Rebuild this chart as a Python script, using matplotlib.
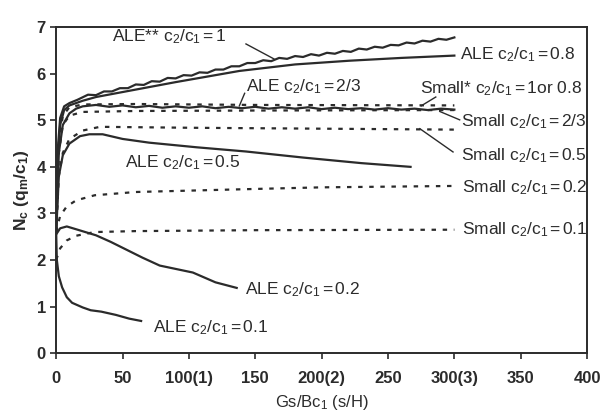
import matplotlib.pyplot as plt

plt.rcParams['font.family'] = ['Liberation Sans', 'DejaVu Sans']
plt.rcParams['mathtext.fontset'] = 'custom'
plt.rcParams['mathtext.rm'] = 'Liberation Sans'
plt.rcParams['mathtext.it'] = 'Liberation Sans:italic'
plt.rcParams['mathtext.bf'] = 'Liberation Sans:bold'

INK = "#2b2b2b"

# ---------------- data ----------------
ale_10_x = [0, 1, 3, 6, 10, 16, 24, 30, 36, 42, 48, 54, 60, 66, 72, 78, 84, 90, 96, 102,
            108, 114, 120, 126, 132, 138, 144, 150, 156, 162, 168, 174, 180, 186, 192,
            198, 204, 210, 216, 222, 228, 234, 240, 246, 252, 258, 264, 270, 276, 282,
            288, 294, 300]
ale_10_y = [2.6, 4.3, 5.05, 5.3, 5.37, 5.44, 5.55, 5.54, 5.62, 5.62, 5.69, 5.69, 5.77, 5.76,
            5.84, 5.83, 5.91, 5.90, 5.97, 5.96, 6.03, 6.02, 6.09, 6.09, 6.16, 6.16, 6.23,
            6.23, 6.29, 6.27, 6.34, 6.32, 6.38, 6.36, 6.42, 6.39, 6.45, 6.43, 6.49, 6.47,
            6.54, 6.52, 6.58, 6.56, 6.62, 6.61, 6.67, 6.65, 6.71, 6.69, 6.75, 6.73, 6.78]

ale_08_x = [0, 1, 3, 6, 10, 20, 30, 60, 90, 138, 180, 221, 260, 300]
ale_08_y = [2.6, 4.1, 4.9, 5.22, 5.32, 5.42, 5.5, 5.66, 5.82, 6.06, 6.2, 6.28, 6.34, 6.39]

ale_23_x = [0, 2, 5, 10, 15, 20, 30, 40, 50, 60, 70, 80, 90, 100, 110, 120, 130, 140, 150,
            160, 170, 180, 190, 200, 210, 220, 230, 240, 250, 260, 270, 280, 290, 300]
ale_23_y = [2.6, 4.3, 4.9, 5.15, 5.25, 5.3, 5.33, 5.29, 5.32, 5.28, 5.31, 5.27, 5.30, 5.27,
            5.30, 5.26, 5.29, 5.26, 5.29, 5.25, 5.28, 5.25, 5.28, 5.24, 5.27, 5.24, 5.26,
            5.23, 5.26, 5.23, 5.25, 5.22, 5.25, 5.23]

ale_05_x = [0, 2, 5, 10, 18, 25, 35, 50, 70, 106, 143, 186, 230, 267]
ale_05_y = [2.6, 3.8, 4.25, 4.5, 4.66, 4.70, 4.70, 4.60, 4.52, 4.42, 4.33, 4.2, 4.08, 4.0]

ale_02_x = [0, 3, 8, 15, 30, 41, 65, 78, 103, 120, 136]
ale_02_y = [2.55, 2.68, 2.72, 2.66, 2.53, 2.39, 2.05, 1.88, 1.73, 1.52, 1.40]

ale_01_x = [0, 0.5, 2, 4.5, 8, 12, 20, 26, 34, 45, 55, 64]
ale_01_y = [2.6, 2.0, 1.65, 1.41, 1.2, 1.08, 0.98, 0.92, 0.89, 0.82, 0.74, 0.69]

small_1_x = [0, 2, 5, 10, 20, 60, 150, 300]
small_1_y = [2.6, 4.5, 5.1, 5.28, 5.34, 5.35, 5.33, 5.32]

small_23_x = [0, 2, 5, 10, 20, 60, 150, 300]
small_23_y = [2.6, 4.3, 4.9, 5.1, 5.18, 5.2, 5.21, 5.22]

small_05_x = [0, 2, 5, 10, 20, 33, 100, 200, 300]
small_05_y = [2.6, 3.8, 4.3, 4.6, 4.78, 4.86, 4.84, 4.82, 4.8]

small_02_x = [0, 3, 8, 15, 29, 60, 142, 200, 300]
small_02_y = [2.6, 2.95, 3.15, 3.28, 3.39, 3.46, 3.52, 3.56, 3.59]

small_01_x = [0, 3, 8, 15, 29, 60, 150, 300]
small_01_y = [2.0, 2.25, 2.42, 2.52, 2.6, 2.62, 2.64, 2.65]

x_ticks = [0, 50, 100, 150, 200, 250, 300, 350, 400]
x_tick_labels = ["0", "50", "100(1)", "150", "200(2)", "250", "300(3)", "350", "400"]
y_ticks = [0, 1, 2, 3, 4, 5, 6, 7]

ratio = r"c$_2$/c$_1$$\,$=$\,$"

# ---------------- plot ----------------
fig = plt.figure(figsize=(6.04, 4.12), dpi=100)
ax = fig.add_axes([0.093, 0.143, 0.879, 0.791])

solid = dict(color=INK, lw=1.6)
dotted = dict(color=INK, lw=1.6, ls=(0, (2, 3)))

ax.plot(ale_10_x, ale_10_y, **solid)
ax.plot(ale_08_x, ale_08_y, **solid)
ax.plot(ale_23_x, ale_23_y, **solid)
ax.plot(ale_05_x, ale_05_y, **solid)
ax.plot(ale_02_x, ale_02_y, **solid)
ax.plot(ale_01_x, ale_01_y, **solid)

ax.plot(small_1_x, small_1_y, **dotted)
ax.plot(small_23_x, small_23_y, **dotted)
ax.plot(small_05_x, small_05_y, **dotted)
ax.plot(small_02_x, small_02_y, **dotted)
ax.plot(small_01_x, small_01_y, **dotted)

lab = dict(fontsize=12.5, color=INK, va="center", ha="left")
ax.text(42, 6.8, "ALE** " + ratio + "1", **lab)
ax.text(304, 6.4, "ALE " + ratio + "0.8", **lab)
ax.text(143, 5.73, "ALE " + ratio + "2/3", **lab)
ax.text(274, 5.67, "Small* " + ratio + "1or 0.8", **lab)
ax.text(305, 4.98, "Small " + ratio + "2/3", **lab)
ax.text(305, 4.25, "Small " + ratio + "0.5", **lab)
ax.text(306, 3.56, "Small " + ratio + "0.2", **lab)
ax.text(306, 2.66, "Small " + ratio + "0.1", **lab)
ax.text(52, 4.09, "ALE " + ratio + "0.5", **lab)
ax.text(142, 1.36, "ALE " + ratio + "0.2", **lab)
ax.text(73, 0.54, "ALE " + ratio + "0.1", **lab)

# leader lines
ax.plot([143, 164], [6.64, 6.32], color=INK, lw=1)
ax.plot([142, 138], [5.58, 5.31], color=INK, lw=1)
ax.plot([286, 275], [5.50, 5.31], color=INK, lw=1)
ax.plot([289, 304], [5.19, 5.01], color=INK, lw=1)
ax.plot([274, 299], [4.82, 4.32], color=INK, lw=1)

ax.set_xlim(0, 400)
ax.set_ylim(0, 7)
ax.set_xticks(x_ticks)
ax.set_xticklabels(x_tick_labels)
ax.set_yticks(y_ticks)
ax.tick_params(colors=INK, labelsize=12, width=1.2, length=4)
ax.tick_params(axis="x", pad=9)
for t in ax.get_xticklabels() + ax.get_yticklabels():
    t.set_fontweight("bold")
for s in ax.spines.values():
    s.set_color(INK)
    s.set_linewidth(1.4)

ax.set_xlabel(r"Gs/Bc$_1$ (s/H)", fontsize=12, color=INK, labelpad=5)
ax.set_ylabel(r"$\mathbf{N_c\ (q_m/c_1)}$", fontsize=12.5, color=INK, labelpad=4)

fig.savefig("out.png", dpi=100)
